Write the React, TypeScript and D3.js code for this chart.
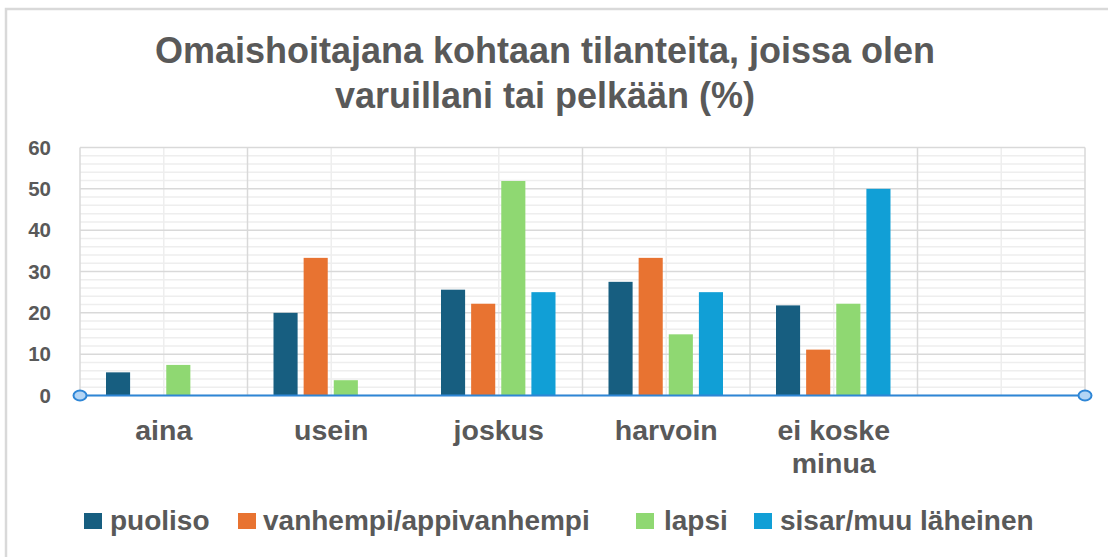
import React from "react";
import * as d3 from "d3";

const categories = ["aina", "usein", "joskus", "harvoin", "ei koske minua", ""];
const seriesNames = ["puoliso", "vanhempi/appivanhempi", "lapsi", "sisar/muu läheinen"];
const seriesColors = ["#175e80", "#e87331", "#8fd872", "#119fd6"];
const puoliso = [5.6, 20, 25.6, 27.5, 21.8];
const vanhempi = [0, 33.3, 22.2, 33.3, 11.1];
const lapsi = [7.4, 3.7, 51.9, 14.8, 22.2];
const sisar = [0, 0, 25, 25, 50];
const yTicks = [0, 10, 20, 30, 40, 50, 60];
const titleLines = ["Omaishoitajana kohtaan tilanteita, joissa olen", "varuillani tai pelkään (%)"];

const W = 1108;
const H = 557;
const FONT = "'Liberation Sans', Arial, sans-serif";
const TXT = "#595959";

export default function App() {
  const left = 80, right = 1085, top = 147.5, bottom = 395.5;
  const series = [puoliso, vanhempi, lapsi, sisar];
  const x = d3.scaleBand<string>().domain(categories.map((c, i) => c + "|" + i)).range([left, right]).padding(0);
  const y = d3.scaleLinear().domain([0, 60]).range([bottom, top]);
  const bw = x.bandwidth();
  const inner = d3.scaleBand<number>().domain([0, 1, 2, 3]).range([26, bw - 27]).paddingInner(0.2).paddingOuter(0);
  const minor = d3.range(0, 61, 2).filter((v) => v % 10 !== 0);
  const keys = x.domain();

  const legendItems = [
    { sx: 84, tx: 110 },
    { sx: 238, tx: 263 },
    { sx: 636, tx: 664 },
    { sx: 754, tx: 780 },
  ];

  return (
    <svg width={W} height={H} style={{ position: "absolute", left: 0, top: 0, background: "#fff" }} fontFamily={FONT}>
      <rect x={6} y={9} width={W + 20} height={H + 20} fill="#fff" stroke="#d9d9d9" strokeWidth={2.5} />
      {titleLines.map((t, i) => (
        <text key={i} x={545} y={63 + i * 45} textAnchor="middle" fontSize={36} fontWeight="bold" fill={TXT}>
          {t}
        </text>
      ))}
      {/* minor gridlines */}
      {minor.map((v) => (
        <line key={"m" + v} x1={left} x2={right} y1={y(v)} y2={y(v)} stroke="#eeeeee" strokeWidth={1.5} />
      ))}
      {keys.map((k) => (
        <line key={"vm" + k} x1={x(k)! + bw / 2} x2={x(k)! + bw / 2} y1={top} y2={bottom} stroke="#eeeeee" strokeWidth={1.5} />
      ))}
      {yTicks.map((v) => (
        <line key={"M" + v} x1={left} x2={right} y1={y(v)} y2={y(v)} stroke="#d9d9d9" strokeWidth={1.5} />
      ))}
      {[...keys.map((k) => x(k)!), right].map((xx, i) => (
        <line key={"vM" + i} x1={xx} x2={xx} y1={top} y2={bottom} stroke="#d9d9d9" strokeWidth={1.5} />
      ))}
      {/* bars */}
      {series.map((vals, si) =>
        vals.map((v, ci) =>
          v > 0 ? (
            <rect
              key={si + "-" + ci}
              x={x(keys[ci])! + inner(si)!}
              y={y(v)}
              width={inner.bandwidth()}
              height={y(0) - y(v)}
              fill={seriesColors[si]}
            />
          ) : null
        )
      )}
      {/* axis line */}
      <line x1={left} x2={right} y1={y(0)} y2={y(0)} stroke="#2e86d6" strokeWidth={2} />
      <ellipse cx={left} cy={y(0)} rx={6.5} ry={5} fill="#b3d5f5" stroke="#2e86d6" strokeWidth={2} />
      <ellipse cx={right} cy={y(0)} rx={6.5} ry={5} fill="#b3d5f5" stroke="#2e86d6" strokeWidth={2} />
      {/* y tick labels */}
      {yTicks.map((v) => (
        <text key={"yt" + v} x={51} y={y(v) + 7} textAnchor="end" fontSize={20.5} fontWeight="bold" fill={TXT}>
          {v}
        </text>
      ))}
      {/* category labels */}
      {keys.map((k, i) => {
        const words = categories[i] === "ei koske minua" ? ["ei koske", "minua"] : [categories[i]];
        return words.map((w, j) => (
          <text key={k + j} x={x(k)! + bw / 2} y={440 + j * 33} textAnchor="middle" fontSize={28.5} fontWeight="bold" fill={TXT}>
            {w}
          </text>
        ));
      })}
      {/* legend */}
      {seriesNames.map((n, i) => (
        <g key={n}>
          <rect x={legendItems[i].sx} y={513} width={18} height={16} fill={seriesColors[i]} />
          <text x={legendItems[i].tx} y={530} fontSize={28} fontWeight="bold" fill={TXT}>
            {n}
          </text>
        </g>
      ))}
    </svg>
  );
}
